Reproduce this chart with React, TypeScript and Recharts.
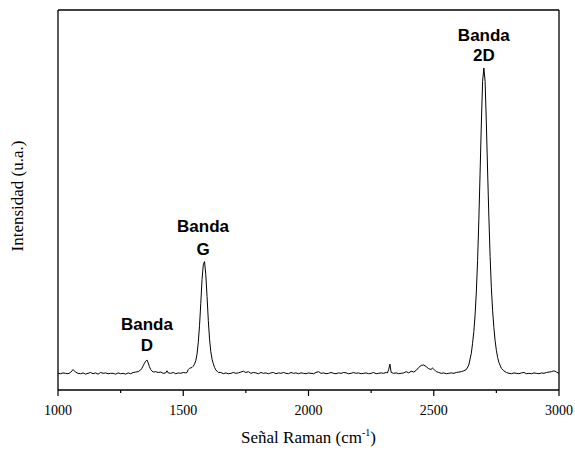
import { LineChart, Line, XAxis, YAxis, ReferenceDot } from 'recharts';

// Espectro Raman (unidades arbitrarias)
const ramanShift = [
  1000, 1010, 1020, 1030, 1040, 1050, 1060, 1070, 1080, 1090,
  1100, 1110, 1120, 1130, 1140, 1150, 1160, 1170, 1180, 1190,
  1200, 1210, 1220, 1230, 1240, 1250, 1260, 1270, 1280, 1290,
  1300, 1310, 1320, 1330, 1335, 1340, 1345, 1350, 1355, 1360,
  1365, 1370, 1380, 1390, 1400, 1410, 1420, 1430, 1435, 1440,
  1450, 1460, 1470, 1480, 1490, 1500, 1510, 1515, 1520, 1525,
  1530, 1535, 1540, 1545, 1550, 1555, 1560, 1565, 1570, 1575,
  1580, 1585, 1590, 1595, 1600, 1605, 1610, 1615, 1620, 1625,
  1630, 1640, 1650, 1660, 1670, 1680, 1690, 1700, 1710, 1720,
  1730, 1740, 1750, 1760, 1770, 1780, 1790, 1800, 1810, 1820,
  1830, 1840, 1850, 1860, 1870, 1880, 1890, 1900, 1910, 1920,
  1930, 1940, 1950, 1960, 1970, 1980, 1990, 2000, 2010, 2020,
  2030, 2040, 2050, 2060, 2070, 2080, 2090, 2100, 2110, 2120,
  2130, 2140, 2150, 2160, 2170, 2180, 2190, 2200, 2210, 2220,
  2230, 2240, 2250, 2260, 2270, 2280, 2290, 2300, 2310, 2315,
  2320, 2325, 2330, 2340, 2350, 2360, 2370, 2380, 2390, 2400,
  2410, 2420, 2430, 2440, 2450, 2460, 2470, 2480, 2490, 2495,
  2500, 2510, 2520, 2530, 2540, 2550, 2560, 2570, 2580, 2590,
  2600, 2610, 2620, 2630, 2640, 2650, 2655, 2660, 2665, 2670,
  2675, 2680, 2685, 2690, 2695, 2700, 2705, 2710, 2715, 2720,
  2725, 2730, 2735, 2740, 2745, 2750, 2755, 2760, 2770, 2780,
  2790, 2800, 2810, 2820, 2830, 2840, 2850, 2860, 2870, 2880,
  2890, 2900, 2910, 2920, 2930, 2940, 2950, 2960, 2970, 2980,
  2990, 3000,
];

const intensity = [
  0.08, 0.07, 0.09, 0.08, 0.07, 0.10, 0.17, 0.11, 0.08, 0.07,
  0.09, 0.06, 0.08, 0.10, 0.07, 0.09, 0.06, 0.10, 0.08, 0.09,
  0.07, 0.08, 0.08, 0.06, 0.09, 0.07, 0.08, 0.06, 0.09, 0.07,
  0.10, 0.11, 0.12, 0.16, 0.20, 0.26, 0.32, 0.37, 0.40, 0.33,
  0.24, 0.17, 0.11, 0.12, 0.10, 0.11, 0.08, 0.09, 0.14, 0.09,
  0.08, 0.10, 0.07, 0.09, 0.08, 0.10, 0.09, 0.10, 0.17, 0.20,
  0.21, 0.22, 0.25, 0.30, 0.38, 0.54, 0.82, 1.23, 1.76, 2.33,
  2.68, 2.76, 2.45, 1.92, 1.35, 0.90, 0.60, 0.42, 0.31, 0.22,
  0.16, 0.10, 0.10, 0.07, 0.09, 0.07, 0.08, 0.10, 0.08, 0.09,
  0.11, 0.13, 0.10, 0.12, 0.08, 0.10, 0.09, 0.07, 0.10, 0.08,
  0.09, 0.07, 0.09, 0.10, 0.07, 0.09, 0.08, 0.10, 0.08, 0.07,
  0.10, 0.08, 0.09, 0.07, 0.09, 0.08, 0.07, 0.09, 0.08, 0.07,
  0.10, 0.12, 0.08, 0.09, 0.07, 0.08, 0.10, 0.08, 0.07, 0.09,
  0.08, 0.10, 0.09, 0.07, 0.08, 0.10, 0.08, 0.09, 0.07, 0.08,
  0.09, 0.07, 0.08, 0.10, 0.07, 0.08, 0.09, 0.08, 0.10, 0.09,
  0.17, 0.30, 0.10, 0.08, 0.09, 0.07, 0.08, 0.09, 0.12, 0.09,
  0.13, 0.11, 0.15, 0.22, 0.27, 0.28, 0.24, 0.19, 0.17, 0.21,
  0.18, 0.12, 0.10, 0.08, 0.09, 0.07, 0.08, 0.09, 0.08, 0.10,
  0.11, 0.12, 0.14, 0.17, 0.28, 0.56, 0.80, 1.08, 1.48, 2.03,
  2.78, 3.76, 4.88, 6.08, 7.08, 7.40, 7.08, 6.08, 4.93, 3.83,
  2.88, 2.13, 1.58, 1.18, 0.86, 0.63, 0.46, 0.34, 0.20, 0.14,
  0.10, 0.08, 0.07, 0.09, 0.08, 0.07, 0.09, 0.10, 0.07, 0.08,
  0.07, 0.09, 0.08, 0.07, 0.09, 0.08, 0.10, 0.11, 0.12, 0.14,
  0.11, 0.08,
];

const xTicks = [1000, 1250, 1500, 1750, 2000, 2250, 2500, 2750, 3000];
const xMajorTicks = [1000, 1500, 2000, 2500, 3000];
const yTicks = [0, 1, 2, 3, 4, 5, 6, 7, 8];

// etiquetas de las bandas, en coordenadas de datos
const bandLabels = [
  { x: 1355, y: 1.26, text: 'Banda' },
  { x: 1355, y: 0.74, text: 'D' },
  { x: 1579, y: 3.59, text: 'Banda' },
  { x: 1579, y: 3.04, text: 'G' },
  { x: 2700, y: 8.19, text: 'Banda' },
  { x: 2700, y: 7.71, text: '2D' },
];

const spectrum = ramanShift.map((x, i) => ({ x, y: intensity[i] }));

const serif = "'Liberation Serif', 'Times New Roman', serif";
const sans = "'Liberation Sans', Arial, sans-serif";
const Y_DOMAIN = [-0.32, 8.79];

function BottomTick({ x, y, payload }: any) {
  const major = xMajorTicks.includes(payload.value);
  return (
    <g>
      <line x1={x} y1={y} x2={x} y2={y + (major ? 6 : 3)} stroke="#000" strokeWidth={1.2} />
      {major && (
        <text x={x} y={y + 25} textAnchor="middle" fontFamily={serif} fontSize={14} fill="#000">
          {payload.value}
        </text>
      )}
    </g>
  );
}

function XTitle({ viewBox }: any) {
  const cx = viewBox ? viewBox.x + viewBox.width / 2 : 308;
  const y = viewBox ? viewBox.y + 53 : 443;
  return (
    <text x={cx} y={y} textAnchor="middle" fontFamily={serif} fontSize={17} fill="#000">
      Señal Raman (cm
      <tspan dy={-7} fontSize={10}>-1</tspan>
      <tspan dy={7}>)</tspan>
    </text>
  );
}

function YTitle({ viewBox }: any) {
  const cx = viewBox ? viewBox.x + 17.5 : 17.5;
  const cy = viewBox ? viewBox.y + viewBox.height / 2 - 4 : 196;
  return (
    <text
      x={cx}
      y={cy}
      transform={`rotate(-90 ${cx} ${cy})`}
      textAnchor="middle"
      dominantBaseline="central"
      fontFamily={serif}
      fontSize={17}
      fill="#000"
    >
      Intensidad (u.a.)
    </text>
  );
}

export default function App() {
  return (
    <div style={{ position: 'absolute', left: 0, top: 0, background: '#fff' }}>
      <LineChart
        width={575}
        height={452}
        data={spectrum}
        margin={{ top: 0, right: 0, bottom: 0, left: 0 }}
      >
        <XAxis
          dataKey="x"
          type="number"
          domain={[1000, 3000]}
          ticks={xTicks}
          interval={0}
          height={62}
          tickLine={false}
          tickSize={0}
          tickMargin={0}
          tick={<BottomTick />}
          axisLine={{ stroke: '#000', strokeWidth: 1.3 }}
          label={<XTitle />}
        />
        <XAxis
          xAxisId="top"
          orientation="top"
          dataKey="x"
          type="number"
          domain={[1000, 3000]}
          ticks={xTicks}
          interval={0}
          height={10}
          tick={false}
          tickSize={3}
          tickLine={{ stroke: '#000' }}
          axisLine={{ stroke: '#000', strokeWidth: 1.3 }}
        />
        <YAxis
          type="number"
          domain={Y_DOMAIN}
          ticks={yTicks}
          interval={0}
          width={58}
          tick={false}
          tickSize={4}
          tickLine={{ stroke: '#000' }}
          axisLine={{ stroke: '#000', strokeWidth: 1.3 }}
          label={<YTitle />}
        />
        <YAxis
          yAxisId="right"
          orientation="right"
          type="number"
          domain={Y_DOMAIN}
          ticks={yTicks}
          interval={0}
          width={16}
          tick={false}
          tickSize={3}
          tickLine={{ stroke: '#000' }}
          axisLine={{ stroke: '#000', strokeWidth: 1.3 }}
        />
        <Line
          type="linear"
          dataKey="y"
          stroke="#000"
          strokeWidth={1}
          dot={false}
          isAnimationActive={false}
        />
        {bandLabels.map((b, i) => (
          <ReferenceDot
            key={i}
            x={b.x}
            y={b.y}
            r={1}
            ifOverflow="visible"
            shape={(p: any) => (
              <text
                x={p.cx}
                y={p.cy}
                textAnchor="middle"
                dominantBaseline="central"
                fontFamily={sans}
                fontWeight="bold"
                fontSize={17}
                fill="#000"
              >
                {b.text}
              </text>
            )}
          />
        ))}
      </LineChart>
    </div>
  );
}
